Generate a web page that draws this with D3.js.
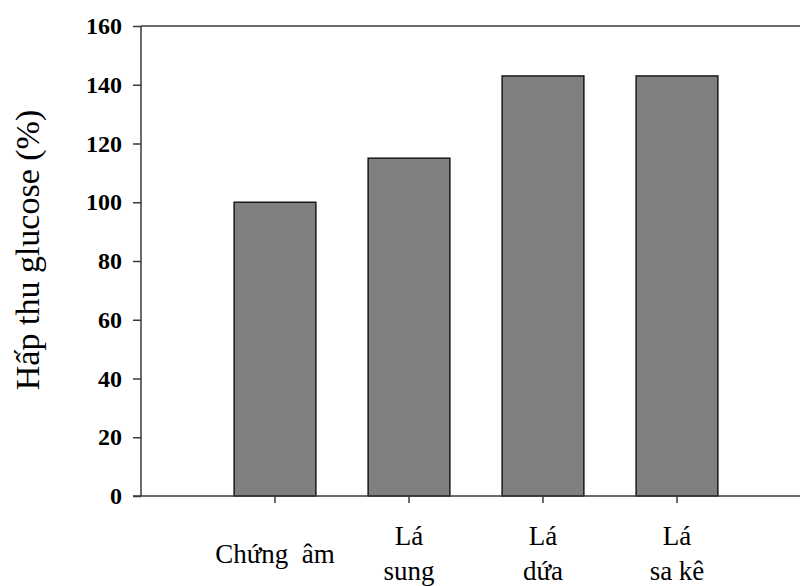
<!DOCTYPE html>
<html>
<head>
<meta charset="utf-8">
<script src="https://cdn.jsdelivr.net/npm/d3@7"></script>
<style>
  html, body { margin: 0; padding: 0; background: #fff; }
  svg text { font-family: "Liberation Serif", "Tinos", "Times New Roman", "DejaVu Serif", serif !important; }
</style>
</head>
<body>
<svg id="chart" width="800" height="586"></svg>
<script>
// ---- data ----
const categories = ["Chứng âm", "Lá sung", "Lá dứa", "Lá sa kê"];
const categoryLines = [["Chứng  âm"], ["Lá", "sung"], ["Lá", "dứa"], ["Lá", "sa kê"]];
const values = [100, 115, 143, 143];
const yTicks = [0, 20, 40, 60, 80, 100, 120, 140, 160];
const yLabel = "Hấp thu glucose (%)";

// ---- layout ----
const svg = d3.select("#chart");
const axisLeftX = 141, axisTop = 26, axisBottom = 496, rightEnd = 800;
const axisColor = "#3a3a3a";
const serif = "'Liberation Serif', Tinos, 'Times New Roman', 'DejaVu Serif', serif";

const y = d3.scaleLinear().domain([0, 160]).range([axisBottom, axisTop]);
const x = d3.scaleBand()
  .domain(categories)
  .range([208, 744])
  .paddingInner(0.39)
  .paddingOuter(0.195);

// bars
svg.append("g").selectAll("rect")
  .data(values)
  .join("rect")
  .attr("x", (d, i) => x(categories[i]))
  .attr("y", d => y(d))
  .attr("width", x.bandwidth())
  .attr("height", d => y(0) - y(d))
  .attr("fill", "#808080")
  .attr("stroke", "#1a1a1a")
  .attr("stroke-width", 1.5);

// y axis
const yAxis = d3.axisLeft(y).tickValues(yTicks).tickSize(8).tickPadding(11);
const gy = svg.append("g").attr("transform", `translate(${axisLeftX},0)`).call(yAxis)
  .attr("font-family", serif);
gy.select(".domain").attr("stroke", axisColor).attr("stroke-width", 1.5)
  .attr("d", `M0,${axisTop}V${axisBottom}`);
gy.selectAll(".tick line").attr("stroke", axisColor).attr("stroke-width", 1.5);
gy.selectAll(".tick text")
  .attr("font-weight", "bold")
  .attr("font-size", 24)
  .attr("fill", "#000");

// x axis
const xAxis = d3.axisBottom(x).tickSize(7).tickFormat("");
const gx = svg.append("g").attr("transform", `translate(0,${axisBottom})`).call(xAxis);
gx.select(".domain").attr("stroke", axisColor).attr("stroke-width", 1.5)
  .attr("d", `M${axisLeftX - 8},0H${rightEnd}`);
gx.selectAll(".tick line").attr("stroke", axisColor).attr("stroke-width", 1.5);

// top frame line
svg.append("line")
  .attr("x1", axisLeftX).attr("x2", rightEnd)
  .attr("y1", axisTop).attr("y2", axisTop)
  .attr("stroke", axisColor).attr("stroke-width", 1.5);

// category labels
categories.forEach((c, i) => {
  const cx = x(c) + x.bandwidth() / 2;
  const lines = categoryLines[i];
  const t = svg.append("text")
    .attr("x", cx)
    .attr("text-anchor", "middle")
    .attr("font-family", serif)
    .attr("font-size", 27)
    .attr("fill", "#000")
    .style("white-space", "pre");
  if (lines.length === 1) {
    t.append("tspan").attr("x", cx).attr("y", 563).text(lines[0]);
  } else {
    lines.forEach((ln, k) => {
      t.append("tspan").attr("x", cx).attr("y", 545 + k * 35).text(ln);
    });
  }
});

// y label
svg.append("text")
  .attr("transform", `translate(39,250) rotate(-90)`)
  .attr("text-anchor", "middle")
  .attr("font-family", serif)
  .attr("font-size", 34)
  .attr("fill", "#000")
  .text(yLabel);
</script>
</body>
</html>
